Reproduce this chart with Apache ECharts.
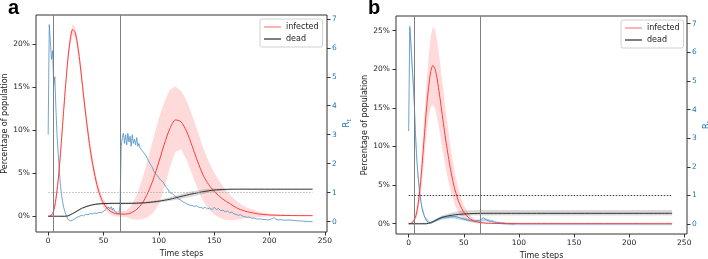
<!DOCTYPE html>
<html>
<head>
<meta charset="utf-8">
<script src="https://cdn.jsdelivr.net/npm/echarts@6/dist/echarts.min.js"></script>
<style>
  html, body { margin: 0; padding: 0; background: #fff; }
  #main { width: 708px; height: 259px; }
</style>
</head>
<body>
<div id="main"></div>
<script>
// ---- panel a : infected (% of population), mean and band ----
var timesInfA = [0,2,4,6,8,10,12,14,16,18,20,22,24,26,28,30,32,35,38,41,44,47,50,55,60,65,70,75,80,85,90,95,100,105,110,115,120,125,130,135,140,145,150,155,160,165,170,175,180,190,200,220,239];
var infectedA = [0,0.05,0.3,1.2,3.0,5.5,8.8,12.3,15.6,18.5,20.6,21.7,21.5,20.4,18.6,16.4,14.0,10.7,7.8,5.5,3.7,2.4,1.5,0.7,0.35,0.25,0.25,0.4,0.8,1.5,2.7,4.3,6.3,8.4,10.2,11.2,11.0,9.9,8.2,6.4,4.8,3.7,2.9,2.3,1.8,1.4,1.0,0.72,0.52,0.27,0.15,0.08,0.07];
var infectedUpperA = [0,0.1,0.5,1.6,3.6,6.2,9.6,13.0,16.3,19.1,21.2,22.3,22.1,21.1,19.3,17.2,14.8,11.5,8.6,6.2,4.3,2.9,2.0,1.1,0.7,0.55,0.6,1.2,2.5,4.3,6.6,9.0,11.4,13.3,14.7,15.1,14.6,13.5,11.8,9.9,8.0,6.4,5.1,4.0,3.1,2.4,1.8,1.35,1.0,0.55,0.3,0.14,0.11];
var infectedLowerA = [0,0,0.1,0.8,2.4,4.8,8.0,11.6,14.9,17.9,20.0,21.1,20.9,19.7,17.9,15.6,13.2,9.9,7.0,4.8,3.1,1.9,1.0,0.3,0,-0.05,-0.1,-0.3,-0.4,-0.35,-0.1,0.4,1.4,3.3,5.7,7.5,7.8,6.6,4.9,3.2,1.8,0.8,0.2,-0.2,-0.4,-0.45,-0.4,-0.3,-0.2,-0.1,-0.02,0.02,0.03];

// ---- panel a : dead ----
var timesDeadA = [0,10,15,18,22,26,30,35,40,45,50,60,70,80,90,100,110,120,130,140,150,160,170,180,200,239];
var deadA = [0,0,0,0.05,0.3,0.6,0.9,1.15,1.33,1.43,1.48,1.5,1.5,1.52,1.6,1.75,1.98,2.3,2.6,2.85,3.05,3.12,3.15,3.15,3.15,3.15];
var deadUpperA = [0.05,0.05,0.05,0.12,0.4,0.7,1.0,1.25,1.43,1.53,1.58,1.6,1.6,1.63,1.72,1.9,2.2,2.6,2.9,3.1,3.22,3.22,3.2,3.19,3.18,3.18];
var deadLowerA = [-0.05,-0.05,-0.05,0,0.2,0.5,0.8,1.05,1.23,1.33,1.38,1.4,1.4,1.41,1.48,1.6,1.76,2.0,2.3,2.6,2.88,3.02,3.1,3.11,3.12,3.12];

// ---- panel a : R_t ----
var timesRA = [0,1,2,3,4,5,6,7,8,9,10,11,12,13,14,15,16,17,18,19,20,22,24,26,28,30,32,34,36,38,40,42,44,46,48,50,52,54,55,56,57,58,59,60,61,62,63,64,65,66,67,68,69,70,71,72,73,74,75,76,77,78,79,80,81,82,83,84,85,86,88,90,92,94,95,96,97,98,100,102,104,106,108,110,112,114,116,118,120,122,124,126,128,130,132,134,136,138,140,142,144,146,148,150,152,154,156,158,160,162,164,166,168,170,172,174,176,178,180,182,184,186,188,190,192,194,196,198,200,202,204,206,208,210,214,218,222,226,230,234,239];
var rtA = [3.0,6.8,6.2,5.6,5.9,4.7,5.0,3.9,3.0,2.4,1.8,1.3,0.95,0.7,0.5,0.36,0.25,0.15,0.08,0.04,0.03,0.05,0.1,0.15,0.18,0.22,0.2,0.26,0.24,0.28,0.27,0.3,0.28,0.33,0.31,0.36,0.42,0.5,0.55,0.45,0.52,0.4,0.47,0.36,0.42,0.3,0.35,0.27,0.6,2.6,2.9,3.05,2.7,3.0,2.65,3.05,2.75,2.95,2.6,3.0,2.7,2.85,2.65,2.9,2.6,2.7,2.55,2.6,2.45,2.42,2.3,2.15,2.0,1.88,1.85,1.7,1.76,1.62,1.52,1.42,1.36,1.22,1.12,1.0,0.98,0.9,0.85,0.78,0.74,0.68,0.64,0.6,0.57,0.56,0.53,0.55,0.5,0.49,0.46,0.5,0.44,0.47,0.41,0.5,0.42,0.45,0.38,0.4,0.34,0.37,0.31,0.33,0.27,0.25,0.22,0.24,0.19,0.17,0.15,0.16,0.12,0.13,0.1,0.09,0.1,0.07,0.08,0.06,0.07,0.1,0.14,0.08,0.06,0.07,0.05,0.06,0.04,0.03,0.02,0.01,0.0];

// ---- panel b : infected ----
var timesInfB = [0,3,6,8,10,12,14,16,18,20,22,24,26,28,30,32,34,36,38,40,42,45,48,50,55,60,65,70,80,100,239];
var infectedB = [0,0.1,0.8,2.0,4.2,7.3,11.0,14.6,17.6,19.7,20.5,20.0,18.6,16.7,14.6,12.5,10.5,8.7,7.0,5.6,4.4,3.0,2.0,1.5,0.7,0.3,0.15,0.08,0.03,0.01,0];
var infectedUpperB = [0,0.15,1.2,2.9,5.6,9.4,13.6,17.9,21.4,24.2,25.5,25.1,23.6,21.4,19.0,16.6,14.2,12.0,9.9,8.1,6.5,4.6,3.1,2.4,1.2,0.6,0.3,0.15,0.05,0.02,0];
var infectedLowerB = [0,0.05,0.4,1.2,2.8,5.2,8.3,11.2,13.7,15.1,15.4,14.9,13.6,12.0,10.2,8.5,6.9,5.5,4.3,3.3,2.4,1.5,0.9,0.6,0.2,0.05,0.02,0.01,0,0,0];

// ---- panel b : dead ----
var timesDeadB = [0,10,16,20,25,30,35,40,45,50,55,60,70,100,239];
var deadB = [0,0,0,0.15,0.5,0.82,1.0,1.12,1.2,1.26,1.3,1.33,1.35,1.35,1.35];
var deadUpperB = [0.12,0.12,0.12,0.22,0.65,1.05,1.3,1.45,1.6,1.7,1.75,1.77,1.77,1.77,1.77];
var deadLowerB = [-0.12,-0.12,-0.12,0.08,0.35,0.6,0.75,0.85,0.95,1.02,1.06,1.08,1.08,1.08,1.08];

// ---- panel b : R_t ----
var timesRB = [0,1,2,3,4,5,6,7,8,9,10,11,12,13,14,15,16,17,18,19,20,22,24,26,28,30,32,34,36,38,40,42,44,46,48,50,52,54,56,58,60,62,64,66,68,70,72,74,76,78,80,84,88,92,96];
var rtB = [3.25,6.9,6.3,5.6,5.0,4.3,3.3,2.5,1.9,1.45,1.1,0.8,0.58,0.42,0.3,0.2,0.13,0.07,0.03,0.02,0.03,0.06,0.1,0.14,0.18,0.21,0.23,0.25,0.24,0.26,0.25,0.27,0.24,0.22,0.2,0.17,0.15,0.13,0.12,0.11,0.1,0.12,0.1,0.18,0.22,0.15,0.12,0.09,0.1,0.06,0.05,0.04,0.02,0.01,0];
var timesRBandB = [0,1,2,4,6,8,10,12,15,20,30,40,50,60,70,80,90,100,239];
var rtUpperB = [3.5,7.1,6.6,5.3,3.6,2.1,1.25,0.68,0.26,0.06,0.26,0.3,0.22,0.14,0.2,0.09,0.05,0.04,0.04];
var rtLowerB = [3.0,6.7,6.0,4.7,3.0,1.7,0.95,0.48,0.14,0.0,0.16,0.2,0.12,0.06,0.1,0.01,-0.04,-0.04,-0.04];

// vertical marker lines (time steps) and R_t = 1 threshold
var interventionsA = [5, 65];
var interventionsB = [5, 65];
var rThreshold = 1;
var lastStep = 239;

var xTicks = [0, 50, 100, 150, 200, 250];
var pctTicksA = [0, 5, 10, 15, 20];
var pctTicksB = [0, 5, 10, 15, 20, 25];
var rTicks = [0, 1, 2, 3, 4, 5, 6, 7];

var FONT = 'DejaVu Sans';
var RED = '#ff3b3b';
var BLUE = '#1f77b4';

function pairs(ts, vs) {
  return ts.map(function (t, i) { return [t, vs[i]]; });
}

// shaded band between lower and upper, drawn as one polygon through the axes
function band(id, xi, yi, ts, lower, upper, color) {
  return {
    type: 'custom', name: id, xAxisIndex: xi, yAxisIndex: yi, silent: true, z: 1,
    clip: true,
    data: [[ts[0], lower[0]]],
    renderItem: function (params, api) {
      var pts = [];
      for (var i = 0; i < ts.length; i++) pts.push(api.coord([ts[i], upper[i]]));
      for (var j = ts.length - 1; j >= 0; j--) pts.push(api.coord([ts[j], lower[j]]));
      return { type: 'polygon', shape: { points: pts }, style: { fill: color } };
    }
  };
}

function meanLine(name, xi, yi, ts, vs, color, width, extra) {
  var s = {
    type: 'line', name: name, xAxisIndex: xi, yAxisIndex: yi,
    smooth: 0.25, symbol: 'none', z: 3,
    lineStyle: { color: color, width: width }, itemStyle: { color: color },
    data: pairs(ts, vs)
  };
  for (var k in extra) s[k] = extra[k];
  return s;
}

function vLines(times) {
  return {
    silent: true, symbol: ['none', 'none'], label: { show: false },
    lineStyle: { color: '#7f7f7f', width: 1, type: 'solid' },
    data: times.map(function (t) { return { xAxis: t }; })
  };
}

function hLine(color) {
  return {
    silent: true, symbol: ['none', 'none'], label: { show: false },
    lineStyle: { color: color, width: 0.9, type: [1.5, 1.5] },
    data: [[{ coord: [0, rThreshold] }, { coord: [lastStep, rThreshold] }]]
  };
}

function xAxis(gi, min, max) {
  return {
    type: 'value', gridIndex: gi, min: min, max: max, position: 'bottom',
    name: 'Time steps', nameLocation: 'middle', nameGap: 15,
    nameTextStyle: { fontFamily: FONT, fontSize: 8, color: '#222' },
    axisLine: { show: false, onZero: false }, splitLine: { show: false },
    axisTick: { show: true, length: 3.5, customValues: xTicks, lineStyle: { color: '#333' } },
    axisLabel: { customValues: xTicks, margin: 5, fontFamily: FONT, fontSize: 7.5, color: '#222' }
  };
}

function pctAxis(gi, min, max, ticks) {
  return {
    type: 'value', gridIndex: gi, min: min, max: max, position: 'left',
    name: 'Percentage of population', nameLocation: 'middle', nameGap: 27, nameRotate: 90,
    nameTextStyle: { fontFamily: FONT, fontSize: 8, color: '#222' },
    axisLine: { show: false, onZero: false }, splitLine: { show: false },
    axisTick: { show: true, length: 3.5, customValues: ticks, lineStyle: { color: '#333' } },
    axisLabel: { customValues: ticks, margin: 6, fontFamily: FONT, fontSize: 7.5, color: '#222',
      formatter: function (v) { return v + '%'; } }
  };
}

function rAxis(gi, min, max) {
  return {
    type: 'value', gridIndex: gi, min: min, max: max, position: 'right',
    name: '{r|R}{s|t}', nameLocation: 'middle', nameGap: 15, nameRotate: 90,
    nameTextStyle: { rich: {
      r: { fontFamily: FONT, fontSize: 9, color: BLUE },
      s: { fontFamily: FONT, fontSize: 6, color: BLUE, padding: [4, 0, 0, 0] }
    } },
    axisLine: { show: false, onZero: false }, splitLine: { show: false },
    axisTick: { show: true, length: 3.5, customValues: rTicks, lineStyle: { color: '#333' } },
    axisLabel: { customValues: rTicks, margin: 5, fontFamily: FONT, fontSize: 7.5, color: BLUE }
  };
}

function legend(left, top) {
  return {
    orient: 'vertical', left: left, top: top, padding: [3, 4, 3, 4], itemGap: 2,
    itemWidth: 17, itemHeight: 1.5, borderColor: '#d0d0d0', borderWidth: 1, borderRadius: 2,
    textStyle: { fontFamily: FONT, fontSize: 8, color: '#222', lineHeight: 10 },
    selectedMode: false,
    data: [
      { name: 'infected', icon: 'rect', itemStyle: { color: '#ff9a9a' } },
      { name: 'dead', icon: 'rect', itemStyle: { color: '#555' } }
    ]
  };
}

var series = [];
// panel a
series.push(band('infBandA', 0, 0, timesInfA, infectedLowerA, infectedUpperA, '#ffdada'));
series.push(band('deadBandA', 0, 0, timesDeadA, deadLowerA, deadUpperA, 'rgba(0,0,0,0.15)'));
series.push(meanLine('rtA', 0, 1, timesRA, rtA, '#4a8fc6', 0.8,
  { z: 2, smooth: false, markLine: hLine('#b0b0b0') }));
series.push(meanLine('infected', 0, 0, timesInfA, infectedA, RED, 1,
  { markLine: vLines(interventionsA) }));
series.push(meanLine('dead', 0, 0, timesDeadA, deadA, '#333', 1, {}));
// panel b
series.push(band('infBandB', 1, 2, timesInfB, infectedLowerB, infectedUpperB, '#ffdada'));
series.push(band('deadBandB', 1, 2, timesDeadB, deadLowerB, deadUpperB, 'rgba(0,0,0,0.15)'));
series.push(band('rtBandB', 1, 3, timesRBandB, rtLowerB, rtUpperB, 'rgba(31,119,180,0.3)'));
series.push(meanLine('rtB', 1, 3, timesRB, rtB, '#4a8fc6', 0.8,
  { z: 2, smooth: false, markLine: hLine('#222') }));
series.push(meanLine('infected', 1, 2, timesInfB, infectedB, RED, 1,
  { markLine: vLines(interventionsB) }));
series.push(meanLine('dead', 1, 2, timesDeadB, deadB, '#333', 1, {}));

var chart = echarts.init(document.getElementById('main'), null, { renderer: 'canvas' });
chart.setOption({
  animation: false,
  backgroundColor: '#fff',
  grid: [
    { left: 36, top: 15, width: 291, height: 217, show: true, borderColor: '#333', borderWidth: 1,
      backgroundColor: 'transparent', outerBoundsMode: 'none', containLabel: false },
    { left: 396, top: 16, width: 291, height: 218, show: true, borderColor: '#333', borderWidth: 1,
      backgroundColor: 'transparent', outerBoundsMode: 'none', containLabel: false }
  ],
  xAxis: [xAxis(0, -11, 252), xAxis(1, -11.5, 252.5)],
  yAxis: [
    pctAxis(0, -1.83, 23.4, pctTicksA), rAxis(0, -0.355, 7.13),
    pctAxis(1, -1.33, 26.9, pctTicksB), rAxis(1, -0.35, 7.27)
  ],
  legend: [legend(260, 19), legend(621, 20)],
  graphic: [
    { type: 'text', left: 8, top: -2, style: { text: 'a', font: 'bold 20px "Liberation Sans"', fill: '#000' } },
    { type: 'text', left: 368, top: -2, style: { text: 'b', font: 'bold 20px "Liberation Sans"', fill: '#000' } }
  ],
  series: series
});
</script>
</body>
</html>
